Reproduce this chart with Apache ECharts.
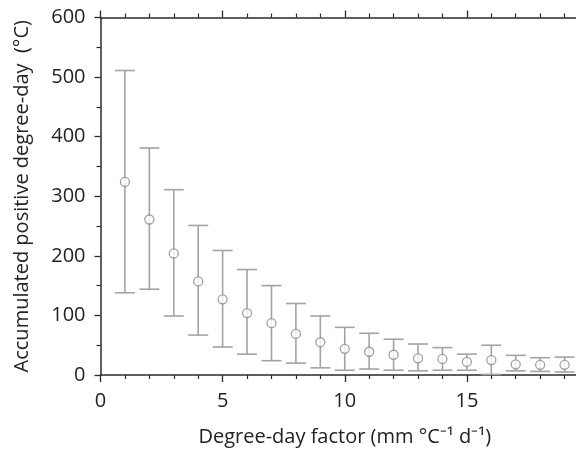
<!DOCTYPE html>
<html>
<head>
<meta charset="utf-8">
<script src="https://cdn.jsdelivr.net/npm/echarts@6/dist/echarts.min.js"></script>
<style>html,body{margin:0;padding:0;background:#fff;overflow:hidden;width:576px;height:452px;}#c{width:592px;height:452px;}</style>
</head>
<body>
<div id="c"></div>
<script>
const factors = [1,2,3,4,5,6,7,8,9,10,11,12,13,14,15,16,17,18,19];
const meanPDD = [324,261,204,157,127,104,87,69,55,44,39,34,28,27,22,25,18,17,17];
const upperPDD = [511,381,311,251,209,177,150,120,99,80,70,60,52,46,35,50,33,29,30];
const lowerPDD = [138,144,99,67,47,35,24,20,12,8,10,8,7,8,8,1,7,6,5];
const yTicks = [0,100,200,300,400,500,600];
const xTicks = [0,5,10,15];

const FONT = 'Open Sans';
const axisCol = '#2a2a2a';
const barCol = '#a3a3a3';

const errData = factors.map((f,i)=>[f, lowerPDD[i], upperPDD[i]]);
const ptData = factors.map((f,i)=>[f, meanPDD[i]]);

const chart = echarts.init(document.getElementById('c'), null, {renderer:'canvas', width:592, height:452});
chart.setOption({
  animation:false,
  backgroundColor:'#fff',
  grid:{left:100.5, top:17.5, bottom:77, width:490.6, containLabel:false},
  xAxis:[{
    type:'value', min:0, max:20, interval:5, position:'bottom',
    name:'Degree-day factor (mm °C⁻¹ d⁻¹)', nameLocation:'middle', nameGap:52,
    nameTextStyle:{fontFamily:FONT, fontSize:20, color:'#222'},
    axisLine:{show:true, onZero:false, lineStyle:{color:axisCol, width:1.5}},
    axisTick:{show:true, length:7, lineStyle:{color:axisCol, width:1.3}},
    minorTick:{show:true, splitNumber:5, length:4, lineStyle:{color:axisCol, width:1.2}},
    axisLabel:{fontFamily:FONT, fontSize:20, color:'#222', margin:16,
      formatter:v=> xTicks.includes(v) ? String(v) : ''},
    splitLine:{show:false}
  },{
    type:'value', min:0, max:20, interval:5, position:'top',
    axisLine:{show:true, onZero:false, lineStyle:{color:axisCol, width:1.5}},
    axisTick:{show:true, length:7, lineStyle:{color:axisCol, width:1.3}},
    minorTick:{show:true, splitNumber:5, length:4, lineStyle:{color:axisCol, width:1.2}},
    axisLabel:{show:false}, splitLine:{show:false}
  }],
  yAxis:{
    type:'value', min:0, max:600, interval:100,
    name:'Accumulated positive degree-day  (°C)', nameLocation:'middle', nameGap:68,
    nameTextStyle:{fontFamily:FONT, fontSize:20, color:'#222'},
    axisLine:{show:true, lineStyle:{color:axisCol, width:1.5}},
    axisTick:{show:true, length:6, lineStyle:{color:axisCol, width:1.3}},
    minorTick:{show:true, splitNumber:2, length:4, lineStyle:{color:axisCol, width:1.2}},
    axisLabel:{fontFamily:FONT, fontSize:20, color:'#222', margin:15,
      formatter:v=> yTicks.includes(v) ? String(v) : ''},
    splitLine:{show:false}
  },
  series:[{
    type:'custom',
    xAxisIndex:0,
    data:errData,
    renderItem:(params, api)=>{
      const x = api.value(0), lo = api.value(1), hi = api.value(2);
      const pLo = api.coord([x, lo]);
      const pHi = api.coord([x, hi]);
      const hw = 10;
      const st = {stroke:barCol, lineWidth:1.6, fill:null};
      return {type:'group', children:[
        {type:'line', shape:{x1:pLo[0], y1:pLo[1], x2:pHi[0], y2:pHi[1]}, style:st},
        {type:'line', shape:{x1:pHi[0]-hw, y1:pHi[1], x2:pHi[0]+hw, y2:pHi[1]}, style:st},
        {type:'line', shape:{x1:pLo[0]-hw, y1:pLo[1], x2:pLo[0]+hw, y2:pLo[1]}, style:st}
      ]};
    },
    z:2
  },{
    type:'scatter',
    xAxisIndex:0,
    data:ptData,
    symbol:'circle',
    symbolSize:9,
    itemStyle:{color:'#fff', borderColor:'#8a8a8a', borderWidth:1.3},
    z:3
  }]
});
</script>
</body>
</html>
